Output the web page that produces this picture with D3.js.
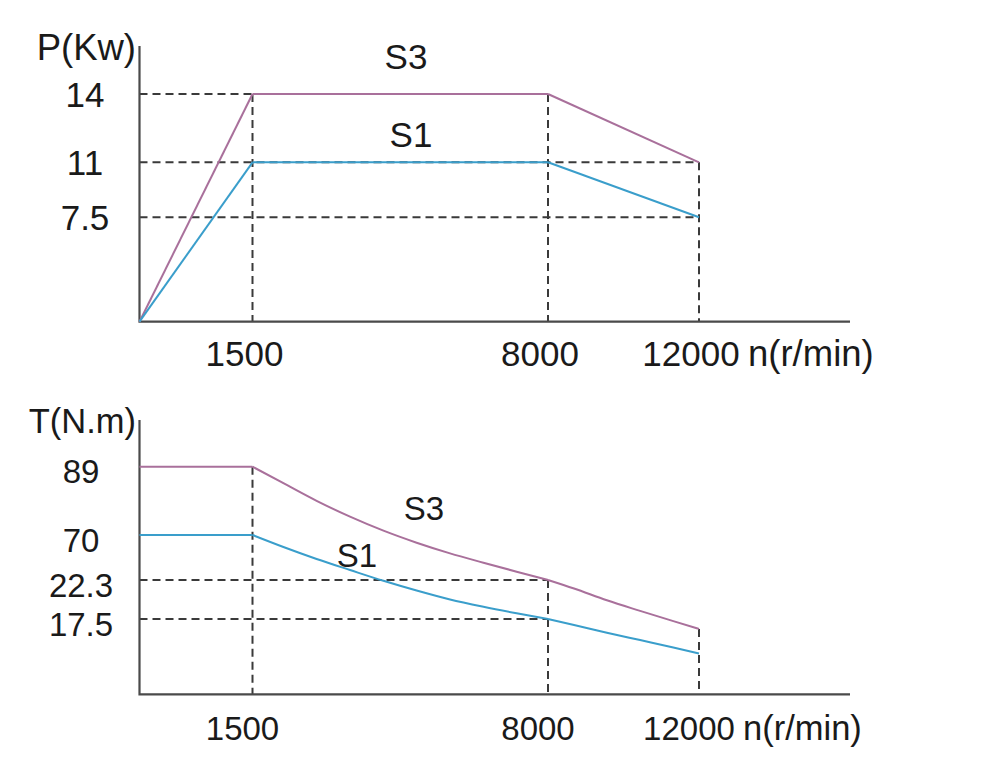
<!DOCTYPE html>
<html>
<head>
<meta charset="utf-8">
<script src="https://cdn.jsdelivr.net/npm/d3@7"></script>
<style>
  body { margin: 0; background: #fff; }
  svg { display: block; }
  text { font-family: "Liberation Sans", Arial, sans-serif; fill: #1a1a1a; }
</style>
</head>
<body>
<svg id="chart" width="1000" height="777"></svg>
<script>
// speed breakpoints (r/min) used on both x axes
const speedTicks = [1500, 8000, 12000];

// power chart
const powerTicks = [7.5, 11, 14];
const powerSpeed = [0, 1500, 8000, 12000];
const powerS3 = [0, 14, 14, 11];
const powerS1 = [0, 11, 11, 7.5];
const powerGuidesH = [{ v: 14, to: 8000 }, { v: 11, to: 12000 }, { v: 7.5, to: 12000 }];
const powerGuidesV = [{ n: 1500, v: 14 }, { n: 8000, v: 14 }, { n: 12000, v: 11 }];

// torque chart
const torqueTicks = [17.5, 22.3, 70, 89];
const torqueSpeed = [0, 1500, 2180, 2910, 3645, 4380, 5110, 5845, 6580, 7310, 8000, 8690, 9560, 10440, 11320, 12000];
const torqueS3 = [89, 89, 84.4, 79.5, 75.1, 71.2, 61.8, 50.5, 40.6, 31.1, 22.3, 21.25, 19.8, 18.5, 17.0, 15.2];
const torqueS1 = [70, 70, 57.3, 44.6, 32.9, 22.2, 21.0, 19.9, 19.0, 18.2, 17.5, 16.1, 14.3, 12.6, 10.9, 9.5];
const torqueGuidesH = [{ v: 22.3, to: 8000 }, { v: 17.5, to: 8000 }];
const torqueGuidesV = [{ n: 1500, v: 89 }, { n: 8000, v: 22.3 }, { n: 12000, v: 15.2 }];

const colorS3 = "#a9709b",
  colorS1 = "#3a9ecb",
  axisColor = "#4a4a4a",
  guideColor = "#3a3a3a",
  originX = 139.5,
  axisRight = 850;

const svg = d3.select("#chart");

// the drawing is schematic: each labelled value sits at its own spot, so the scales are piecewise
const x = d3.scaleLinear()
  .domain([0, 1500, 8000, 12000])
  .range([originX, 252.5, 548, 699]);

const breaks = [0, 1500, 8000, 12000];

function drawPanel(cfg) {
  const y = cfg.y;
  const g = svg.append("g");
  const y0 = y(0);

  // dashed guides
  g.selectAll(".gh").data(cfg.guidesH).enter().append("line")
    .attr("x1", x(0)).attr("x2", d => x(d.to))
    .attr("y1", d => y(d.v)).attr("y2", d => y(d.v))
    .attr("stroke", guideColor).attr("stroke-width", 2)
    .attr("stroke-dasharray", "8,5");

  g.selectAll(".gv").data(cfg.guidesV).enter().append("line")
    .attr("x1", d => x(d.n)).attr("x2", d => x(d.n))
    .attr("y1", d => y(d.v)).attr("y2", y0)
    .attr("stroke", guideColor).attr("stroke-width", 2)
    .attr("stroke-dasharray", "8,5");

  // axes
  g.append("path")
    .attr("d", `M${originX},${cfg.top}V${y0}H${axisRight}`)
    .attr("fill", "none")
    .attr("stroke", axisColor)
    .attr("stroke-width", 2.2);

  // series, curved piece by piece between breakpoints so corners stay sharp
  const line = d3.line()
    .x(d => x(d[0]))
    .y(d => y(d[1]))
    .curve(d3.curveMonotoneX);

  cfg.series.forEach(s => {
    const pts = cfg.speed.map((n, i) => [n, s.values[i]]);
    for (let k = 0; k < breaks.length - 1; k++) {
      const piece = pts.filter(p => p[0] >= breaks[k] && p[0] <= breaks[k + 1]);
      if (piece.length < 2) continue;
      g.append("path")
        .datum(piece)
        .attr("d", line)
        .attr("fill", "none")
        .attr("stroke", s.color)
        .attr("stroke-width", 2)
        .attr("stroke-linejoin", "round");
    }
    g.append("text")
      .attr("x", s.lx).attr("y", s.ly)
      .attr("text-anchor", "middle")
      .style("font-size", cfg.font + "px")
      .text(s.name);
  });

  // tick labels
  g.selectAll(".yl").data(cfg.yTicks).enter().append("text")
    .attr("x", cfg.yLabelX)
    .attr("y", d => y(d))
    .attr("dy", cfg.yDy)
    .attr("text-anchor", "middle")
    .style("font-size", cfg.font + "px")
    .text(d => d);

  g.selectAll(".xl").data(speedTicks).enter().append("text")
    .attr("x", d => x(d) + cfg.xDx)
    .attr("y", y0 + cfg.xDy)
    .attr("text-anchor", "middle")
    .style("font-size", cfg.font + "px")
    .text(d => d);

  g.append("text")
    .attr("x", cfg.unitX).attr("y", y0 + cfg.xDy)
    .style("font-size", (cfg.font + 1.5) + "px")
    .text("n(r/min)");

  g.append("text")
    .attr("x", 136).attr("y", cfg.titleY)
    .attr("text-anchor", "end")
    .style("font-size", (cfg.font + 1.5) + "px")
    .text(cfg.title);
}

drawPanel({
  y: d3.scaleLinear().domain([0, 7.5, 11, 14]).range([321.7, 217.3, 162.3, 94]),
  top: 46,
  guidesH: powerGuidesH,
  guidesV: powerGuidesV,
  speed: powerSpeed,
  series: [
    { name: "S3", values: powerS3, color: colorS3, lx: 406, ly: 69 },
    { name: "S1", values: powerS1, color: colorS1, lx: 411, ly: 147 }
  ],
  yTicks: powerTicks,
  yLabelX: 85,
  yDy: "0.37em",
  xDx: -8,
  xDy: 44,
  unitX: 748,
  font: 35,
  title: "P(Kw)",
  titleY: 60
});

drawPanel({
  y: d3.scaleLinear().domain([0, 17.5, 22.3, 70, 89]).range([694.3, 619, 580, 535, 466.7]),
  top: 420,
  guidesH: torqueGuidesH,
  guidesV: torqueGuidesV,
  speed: torqueSpeed,
  series: [
    { name: "S3", values: torqueS3, color: colorS3, lx: 424, ly: 520 },
    { name: "S1", values: torqueS1, color: colorS1, lx: 357, ly: 567 }
  ],
  yTicks: torqueTicks,
  yLabelX: 81,
  yDy: "0.5em",
  xDx: -10,
  xDy: 46,
  unitX: 743,
  font: 33,
  title: "T(N.m)",
  titleY: 433
});
</script>
</body>
</html>
